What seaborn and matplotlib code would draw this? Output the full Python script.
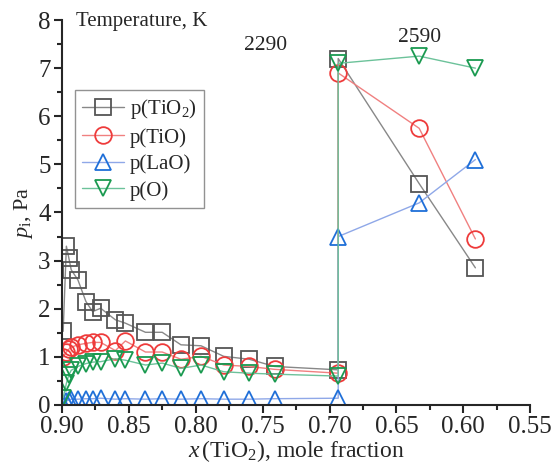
import numpy as np
import pandas as pd
import matplotlib
matplotlib.use("Agg")
import matplotlib.pyplot as plt
from matplotlib.ticker import MultipleLocator, FormatStrFormatter
import seaborn as sns

# mole fraction x(TiO2): 2290 K series, then 2590 K series
x_2290 = [0.8990, 0.8966, 0.8948, 0.8930, 0.8880, 0.8820, 0.8770, 0.8710, 0.8600,
          0.8525, 0.8375, 0.8250, 0.8110, 0.7960, 0.7790, 0.7600, 0.7410, 0.6935]
x_2590 = [0.6935, 0.6330, 0.5910]

p_tio2_2290 = [1.53, 3.30, 3.06, 2.81, 2.60, 2.15, 1.94, 2.01, 1.77,
               1.70, 1.51, 1.51, 1.25, 1.23, 1.01, 0.95, 0.80, 0.73]
p_tio_2290  = [1.00, 1.10, 1.16, 1.20, 1.25, 1.28, 1.30, 1.30, 1.13,
               1.33, 1.10, 1.10, 0.95, 1.01, 0.83, 0.80, 0.74, 0.66]
p_lao_2290  = [0.02, 0.08, 0.10, 0.12, 0.12, 0.13, 0.13, 0.14, 0.12,
               0.13, 0.12, 0.13, 0.12, 0.13, 0.12, 0.12, 0.13, 0.14]
p_o_2290    = [0.15, 0.45, 0.62, 0.72, 0.80, 0.86, 0.89, 0.90, 0.96,
               0.93, 0.83, 0.87, 0.76, 0.83, 0.69, 0.66, 0.64, 0.60]

p_tio2_2590 = [7.20, 4.60, 2.85]
p_tio_2590  = [6.90, 5.75, 3.45]
p_lao_2590  = [3.50, 4.20, 5.10]
p_o_2590    = [7.10, 7.25, 7.00]

labels = ["p(TiO$_2$)", "p(TiO)", "p(LaO)", "p(O)"]

series = [
    (p_tio2_2290 + p_tio2_2590, "s", "#555555", "#888888"),
    (p_tio_2290 + p_tio_2590,   "o", "#ee3b3b", "#f08080"),
    (p_lao_2290 + p_lao_2590,   "^", "#1f6fd8", "#8fa8e8"),
    (p_o_2290 + p_o_2590,       "v", "#1a9a50", "#6cc29a"),
]
x_all = x_2290 + x_2590

sns.set_style("ticks")
plt.rcParams["font.family"] = ["Liberation Serif", "DejaVu Serif"]
plt.rcParams["mathtext.fontset"] = "custom"
plt.rcParams["mathtext.rm"] = "Liberation Serif"
plt.rcParams["mathtext.it"] = "Liberation Serif:italic"

fig = plt.figure(figsize=(5.57, 4.66), dpi=100)
ax = fig.add_axes([0.111, 0.131, 0.841, 0.826])

for (vals, mk, mcol, lcol), lab in zip(series, labels):
    df = pd.DataFrame({"x": x_all, "p": vals})
    sns.lineplot(data=df, x="x", y="p", ax=ax, estimator=None, sort=False,
                 color=lcol, lw=1.0, marker=mk, markersize=12,
                 markerfacecolor="none", markeredgecolor=mcol, markeredgewidth=1.3,
                 label=lab)

ax.set_xlim(0.90, 0.55)
ax.set_ylim(0, 8)
ax.xaxis.set_major_locator(MultipleLocator(0.05))
ax.xaxis.set_minor_locator(MultipleLocator(0.025))
ax.yaxis.set_major_locator(MultipleLocator(1))
ax.yaxis.set_minor_locator(MultipleLocator(0.5))
ax.xaxis.set_major_formatter(FormatStrFormatter("%.2f"))
ax.tick_params(which="major", length=6, width=1.5, labelsize=18, direction="out", pad=2)
ax.tick_params(which="minor", length=3.5, width=1.5, direction="out")
for s in ["left", "bottom"]:
    ax.spines[s].set_linewidth(1.5)
sns.despine(ax=ax)

ax.set_xlabel("$\\mathit{x}\\,$(TiO$_2$), mole fraction", fontsize=17, labelpad=0)
ax.set_ylabel("$\\mathit{p}_\\mathrm{i}$, Pa", fontsize=16, labelpad=2)

ax.text(0.8895, 7.96, "Temperature, K", fontsize=15, va="center", ha="left")
ax.text(0.748, 7.48, "2290", fontsize=15.5, va="center", ha="center")
ax.text(0.633, 7.63, "2590", fontsize=15.5, va="center", ha="center")

leg = ax.legend(loc="upper left", bbox_to_anchor=(0.028, 0.818), fontsize=15,
                frameon=True, fancybox=False, edgecolor="#777777",
                handlelength=2.0, borderpad=0.35, labelspacing=0.32, handletextpad=0.3,
                borderaxespad=0)
leg.get_frame().set_linewidth(1.0)

fig.savefig("out.png", dpi=100)
